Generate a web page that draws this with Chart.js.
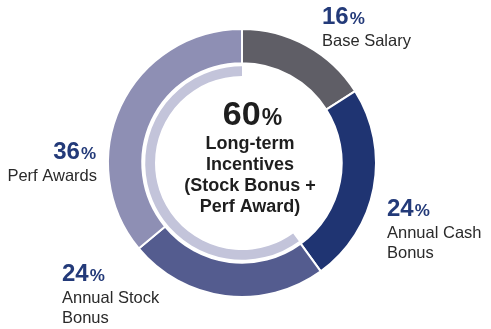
<!DOCTYPE html>
<html>
<head>
<meta charset="utf-8">
<script src="https://cdn.jsdelivr.net/npm/chart.js@4"></script>
<style>
  html, body { margin: 0; padding: 0; background: #fff; }
  #wrap { width: 491px; height: 329px; }
</style>
</head>
<body>
<div id="wrap"><canvas id="payMix"></canvas></div>
<script>
// pay mix, percent of target pay
const categories = ['Base Salary', 'Annual Cash Bonus', 'Annual Stock Bonus', 'Perf Awards'];
const labelLines = [['Base Salary'], ['Annual Cash', 'Bonus'], ['Annual Stock', 'Bonus'], ['Perf Awards']];
const shares = [16, 24, 24, 36];
// inner arc: short-term vs long-term incentives
const ltiSplit = [40, 60];
const centerLines = ['Long-term', 'Incentives', '(Stock Bonus +', 'Perf Award)'];

const FONT = '"Liberation Sans", Arial, Helvetica, sans-serif';
const NAVY = '#233a79';

// label anchors relative to the chart centre: [dx, dy of the % line, align]
const labelAnchors = [
  [80, -139, 'left'],
  [145, 53, 'left'],
  [-180, 118, 'left'],
  [-147, -4, 'right']
];

function drawPct(ctx, value, x, y, align, big, small) {
  ctx.font = `bold ${big}px ${FONT}`;
  const numW = ctx.measureText(String(value)).width;
  ctx.font = `bold ${small}px ${FONT}`;
  const pctW = ctx.measureText('%').width;
  let left = align === 'left' ? x : (align === 'right' ? x - numW - pctW : x - (numW + pctW) / 2);
  ctx.textAlign = 'left';
  ctx.textBaseline = 'alphabetic';
  ctx.font = `bold ${big}px ${FONT}`;
  ctx.fillText(String(value), left, y);
  ctx.font = `bold ${small}px ${FONT}`;
  ctx.fillText('%', left + numW + 1, y);
}

const labelPlugin = {
  id: 'payLabels',
  afterDraw(chart) {
    const ctx = chart.ctx;
    const arc = chart.getDatasetMeta(0).data[0];
    const cx = arc.x, cy = arc.y;
    ctx.save();

    shares.forEach((v, i) => {
      const [dx, dy, align] = labelAnchors[i];
      const x = cx + dx, y = cy + dy;
      ctx.fillStyle = NAVY;
      drawPct(ctx, v, x, y, align, 24, 17);
      ctx.fillStyle = '#2a2a2a';
      ctx.font = `16.5px ${FONT}`;
      ctx.textAlign = align;
      labelLines[i].forEach((line, j) => {
        ctx.fillText(line, align === 'right' ? x + 2 : x, y + 22 + j * 20);
      });
    });

    // centre caption, sits a little right of the ring centre
    const tx = cx + 8;
    ctx.fillStyle = '#1e1e1e';
    drawPct(ctx, ltiSplit[1], tx + 2, cy - 38, 'center', 34, 23);
    ctx.font = `bold 18px ${FONT}`;
    ctx.textAlign = 'center';
    centerLines.forEach((line, j) => {
      ctx.fillText(line, tx, cy - 14 + j * 21);
    });
    ctx.restore();
  }
};

new Chart(document.getElementById('payMix'), {
  type: 'doughnut',
  data: {
    labels: categories,
    datasets: [
      {
        data: shares,
        backgroundColor: ['#5f5e66', '#1f3472', '#545c8f', '#8e8fb4'],
        borderColor: '#ffffff',
        borderWidth: 2,
        weight: 35
      },
      {
        // spacer ring
        data: [100],
        backgroundColor: 'rgba(0,0,0,0)',
        borderWidth: 0,
        weight: 3
      },
      {
        data: ltiSplit,
        backgroundColor: ['rgba(0,0,0,0)', '#c3c4da'],
        borderWidth: 0,
        weight: 10
      }
    ]
  },
  options: {
    responsive: true,
    maintainAspectRatio: false,
    animation: false,
    cutout: 87,
    layout: { padding: { left: 107, right: 114, top: 28, bottom: 31 } },
    plugins: {
      legend: { display: false },
      tooltip: { enabled: false }
    }
  },
  plugins: [labelPlugin]
});
</script>
</body>
</html>
